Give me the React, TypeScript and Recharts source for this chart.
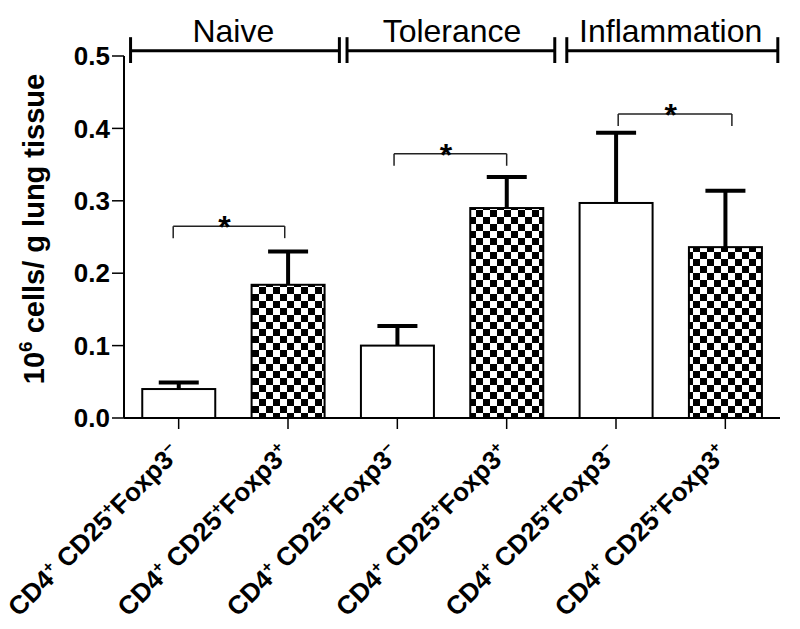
import {
  Bar,
  BarChart,
  ReferenceDot,
  ReferenceLine,
  XAxis,
  YAxis,
} from "recharts";

const FONT = "'Liberation Sans', Arial, Helvetica, sans-serif";

// bars, left to right
const categories = ["naiveNeg", "naivePos", "tolNeg", "tolPos", "inflNeg", "inflPos"];
const foxp3Sign = ["-", "+", "-", "+", "-", "+"];
const cellCounts = [0.04, 0.184, 0.1, 0.29, 0.297, 0.236];
const errors = [0.009, 0.046, 0.027, 0.043, 0.097, 0.078];

const yTicks = [0, 0.1, 0.2, 0.3, 0.4, 0.5];

// group headers across the top (x in bar-slot units, 0..6)
const groups = ["Naive", "Tolerance", "Inflammation"];
const groupCenters = [1, 3, 5];
const groupStarts = [0.06, 2.04, 4.05];
const groupEnds = [1.97, 3.94, 5.98];

// significance brackets
const sigStarts = [0.45, 2.47, 4.52];
const sigEnds = [1.47, 3.5, 5.56];
const sigLevels = [0.265, 0.365, 0.42];

const data = categories.map((id, i) => ({
  id,
  slot: i + 0.5,
  value: cellCounts[i],
  err: errors[i],
  positive: foxp3Sign[i] === "+",
}));

function BarShape(props: any) {
  const { x, y, width, height, payload } = props;
  const errPx = (height * payload.err) / payload.value;
  const cx = x + width / 2;
  return (
    <g>
      <rect
        x={x}
        y={y}
        width={width}
        height={height}
        fill={payload.positive ? "url(#checker)" : "#fff"}
        stroke="#000"
        strokeWidth={2}
      />
      <line x1={cx} x2={cx} y1={y} y2={y - errPx} stroke="#000" strokeWidth={4} />
      <line x1={cx - 20} x2={cx + 20} y1={y - errPx} y2={y - errPx} stroke="#000" strokeWidth={4} />
    </g>
  );
}

function XTick(props: any) {
  const { x, y, payload } = props;
  const sign = foxp3Sign[payload.index];
  return (
    <g transform={`translate(${x + 3},${y + 24})`}>
      <text
        transform="rotate(-45)"
        textAnchor="end"
        fontFamily={FONT}
        fontWeight="bold"
        fontSize={26}
        fill="#000"
      >
        <tspan>CD4</tspan>
        <tspan dy={-10} fontSize={16}>+</tspan>
        <tspan dy={10}> CD25</tspan>
        <tspan dy={-10} fontSize={16}>+</tspan>
        <tspan dy={10}>Foxp3</tspan>
        <tspan dy={-10} fontSize={16}>{sign === "+" ? "+" : "\u2212"}</tspan>
      </text>
    </g>
  );
}

function YLabel(props: any) {
  const vb = props.viewBox;
  const cy = vb.y + vb.height / 2 - 8;
  return (
    <text
      transform={`translate(44,${cy}) rotate(-90)`}
      textAnchor="middle"
      fontFamily={FONT}
      fontWeight="bold"
      fontSize={29}
      fill="#000"
    >
      <tspan>10</tspan>
      <tspan dy={-12} fontSize={19}>6</tspan>
      <tspan dy={12}> cells/ g lung tissue</tspan>
    </text>
  );
}

export default function App() {
  return (
    <div style={{ position: "absolute", left: 0, top: 0, background: "#fff" }}>
      <BarChart
        width={800}
        height={629}
        data={data}
        margin={{ top: 56, right: 20, left: 0, bottom: 0 }}
        barCategoryGap="16.7%"
      >
        <defs>
          <pattern id="checker" width={14} height={14} patternUnits="userSpaceOnUse">
            <rect width={14} height={14} fill="#fff" />
            <rect width={7} height={7} fill="#000" />
            <rect x={7} y={7} width={7} height={7} fill="#000" />
          </pattern>
        </defs>
        <XAxis
          dataKey="id"
          interval={0}
          height={211}
          tickSize={11}
          axisLine={{ stroke: "#000", strokeWidth: 2 }}
          tickLine={{ stroke: "#000", strokeWidth: 1.5 }}
          tick={<XTick />}
        />
        <XAxis
          xAxisId="grp"
          dataKey="slot"
          type="number"
          domain={[0, 6]}
          allowDataOverflow
          hide
        />
        <YAxis
          width={124}
          domain={[0, 0.5]}
          ticks={yTicks}
          tickSize={12}
          tickMargin={2}
          tickFormatter={(v: number) => v.toFixed(1)}
          axisLine={{ stroke: "#000", strokeWidth: 2 }}
          tickLine={{ stroke: "#000", strokeWidth: 1.5 }}
          tick={{ fill: "#000", fontSize: 26, fontWeight: "bold", fontFamily: FONT }}
          label={{ content: (p: any) => <YLabel {...p} /> }}
        />
        <Bar dataKey="value" shape={<BarShape />} isAnimationActive={false} />

        {groups.map((g, i) => (
          <ReferenceLine
            key={`gl-${g}`}
            xAxisId="grp"
            ifOverflow="visible"
            stroke="#000"
            strokeWidth={3}
            segment={[
              { x: groupStarts[i], y: 0.5073 },
              { x: groupEnds[i], y: 0.5073 },
            ]}
          />
        ))}
        {groups.flatMap((g, i) =>
          [groupStarts[i], groupEnds[i]].map((gx, j) => (
            <ReferenceLine
              key={`gt-${g}-${j}`}
              xAxisId="grp"
              ifOverflow="visible"
              stroke="#000"
              strokeWidth={3}
              segment={[
                { x: gx, y: 0.526 },
                { x: gx, y: 0.4903 },
              ]}
            />
          ))
        )}
        {groups.map((g, i) => (
          <ReferenceDot
            key={`gn-${g}`}
            xAxisId="grp"
            x={groupCenters[i]}
            y={0.5193}
            r={0}
            ifOverflow="visible"
            label={{
              content: (p: any) => (
                <text
                  x={p.viewBox.x}
                  y={p.viewBox.y}
                  textAnchor="middle"
                  fontFamily={FONT}
                  fontSize={32}
                  fill="#000"
                >
                  {g}
                </text>
              ),
            }}
          />
        ))}

        {sigLevels.map((lv, i) => (
          <ReferenceLine
            key={`sl-${i}`}
            xAxisId="grp"
            ifOverflow="visible"
            stroke="#222"
            strokeWidth={1.5}
            segment={[
              { x: sigStarts[i], y: lv },
              { x: sigEnds[i], y: lv },
            ]}
          />
        ))}
        {sigLevels.flatMap((lv, i) =>
          [sigStarts[i], sigEnds[i]].map((sx, j) => (
            <ReferenceLine
              key={`st-${i}-${j}`}
              xAxisId="grp"
              ifOverflow="visible"
              stroke="#222"
              strokeWidth={1.5}
              segment={[
                { x: sx, y: lv },
                { x: sx, y: lv - 0.0166 },
              ]}
            />
          ))
        )}
        {sigLevels.map((lv, i) => (
          <ReferenceDot
            key={`ss-${i}`}
            xAxisId="grp"
            x={(sigStarts[i] + sigEnds[i]) / 2 - 0.04}
            y={lv}
            r={0}
            ifOverflow="visible"
            label={{
              content: (p: any) => (
                <text
                  x={p.viewBox.x}
                  y={p.viewBox.y + 12}
                  textAnchor="middle"
                  fontFamily={FONT}
                  fontWeight="bold"
                  fontSize={32}
                  fill="#000"
                >
                  *
                </text>
              ),
            }}
          />
        ))}
      </BarChart>
    </div>
  );
}
